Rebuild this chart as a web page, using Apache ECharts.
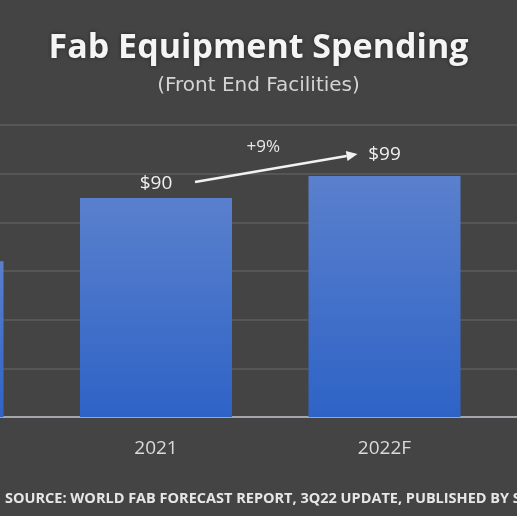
<!DOCTYPE html>
<html>
<head>
<meta charset="utf-8">
<script src="https://cdn.jsdelivr.net/npm/echarts@6/dist/echarts.min.js"></script>
<style>
  html, body { margin: 0; padding: 0; background: #444444; }
  #chart { width: 517px; height: 516px; }
</style>
</head>
<body>
<div id="chart"></div>
<script>
// values in $B; the 2023F column sits outside the crop and is not visible
const years = ['2020', '2021', '2022F', '2023F'];
const spending = [64, 90, 99, null];
const valueLabels = ['$64', '$90', '$99', ''];
const yTicks = [0, 20, 40, 60, 80, 100, 120];
const growthLabel = '+9%';

const labelGap = [7, 5, 12, 7];

const chart = echarts.init(document.getElementById('chart'));

const option = {
    backgroundColor: '#444444',
    animation: false,
    title: [
        {
            text: 'Fab Equipment Spending',
            left: 'center',
            top: 26,
            textStyle: {
                color: '#f4f4f4',
                fontFamily: 'Open Sans',
                fontWeight: 'bold',
                fontSize: 34,
                textShadowColor: 'rgba(0,0,0,0.5)',
                textShadowBlur: 4
            }
        },
        {
            text: '(Front End Facilities)',
            left: 'center',
            top: 71,
            textStyle: {
                color: '#d4d4d4',
                fontFamily: 'DejaVu Sans',
                fontWeight: 'normal',
                fontSize: 20
            }
        },
        {
            text: 'SOURCE: WORLD FAB FORECAST REPORT, 3Q22 UPDATE, PUBLISHED BY SEMI',
            left: 0,
            top: 486,
            textStyle: {
                color: '#e6e6e6',
                fontFamily: 'Open Sans',
                fontWeight: 'bold',
                fontSize: 14.5
            }
        }
    ],
    grid: {
        left: -186.75,
        right: -210.25,
        top: 125,
        bottom: 99,
        outerBoundsMode: 'none',
        containLabel: false
    },
    xAxis: {
        type: 'category',
        data: years,
        axisLine: { lineStyle: { color: '#a3a6ab', width: 2 } },
        axisTick: { show: false },
        axisLabel: {
            color: '#dadada',
            fontFamily: 'Open Sans',
            fontSize: 19,
            margin: 22
        }
    },
    yAxis: {
        type: 'value',
        min: yTicks[0],
        max: yTicks[yTicks.length - 1],
        interval: yTicks[1] - yTicks[0],
        axisLabel: { show: false },
        axisLine: { show: false },
        axisTick: { show: false },
        splitLine: { lineStyle: { color: '#5c5c5c', width: 1.5 } }
    },
    series: [
        {
            type: 'bar',
            barWidth: 152,
            data: spending.map((v, i) => ({
                value: v,
                label: { distance: labelGap[i] }
            })),
            itemStyle: {
                color: new echarts.graphic.LinearGradient(0, 0, 0, 1, [
                    { offset: 0, color: '#5a80cd' },
                    { offset: 1, color: '#2e63c6' }
                ])
            },
            label: {
                show: true,
                position: 'top',
                color: '#f0f0f0',
                fontFamily: 'Open Sans',
                fontSize: 19,
                formatter: p => valueLabels[p.dataIndex]
            }
        }
    ]
};
chart.setOption(option);

// growth arrow between the 2021 and 2022F labels
const a = chart.convertToPixel({ seriesIndex: 0 }, [1, spending[1]]);
const b = chart.convertToPixel({ seriesIndex: 0 }, [2, spending[2]]);
const x1 = a[0] + 39, y1 = a[1] - 16;
const x2 = b[0] - 27, y2 = b[1] - 22;
const ang = Math.atan2(y2 - y1, x2 - x1);
const head = 11, half = 5;
const hx = x2 - head * Math.cos(ang), hy = y2 - head * Math.sin(ang);
chart.setOption({
    graphic: [
        {
            type: 'line',
            shape: { x1: x1, y1: y1, x2: hx, y2: hy },
            style: { stroke: '#f2f2f2', lineWidth: 2.5 }
        },
        {
            type: 'polygon',
            shape: {
                points: [
                    [x2, y2],
                    [hx + half * Math.sin(ang), hy - half * Math.cos(ang)],
                    [hx - half * Math.sin(ang), hy + half * Math.cos(ang)]
                ]
            },
            style: { fill: '#f2f2f2' }
        },
        {
            type: 'text',
            x: (x1 + x2) / 2 - 13,
            y: (y1 + y2) / 2 - 21,
            style: {
                text: growthLabel,
                fill: '#e8e8e8',
                font: '17px "Open Sans"',
                align: 'center',
                verticalAlign: 'middle'
            }
        }
    ]
});
</script>
</body>
</html>
